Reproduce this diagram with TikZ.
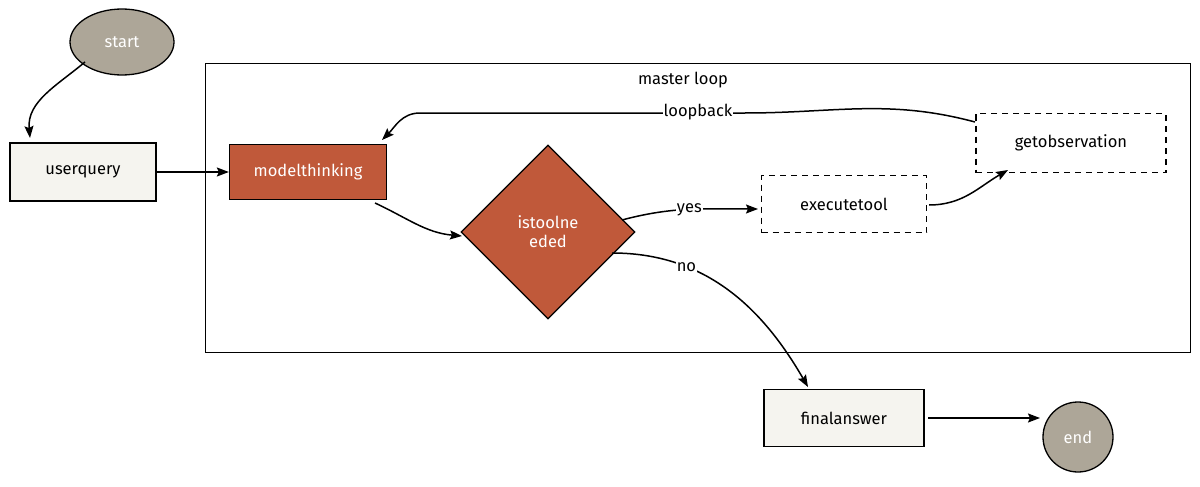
\documentclass[tikz,border=0pt]{standalone}
\usepackage{fontspec}
\setmainfont{Fira Sans}
\usetikzlibrary{shapes.geometric,arrows.meta}
\definecolor{rust}{HTML}{C0593A}
\definecolor{stone}{HTML}{ADA698}
\definecolor{paper}{HTML}{F5F4EF}
\tikzset{
  txt/.style={font=\fontsize{16.5}{19}\selectfont},
  box/.style={draw,line width=1.3pt,fill=paper,minimum width=#1,minimum height=57pt,txt},
  hot/.style={draw,line width=1.3pt,fill=rust,text=white,txt},
  dbox/.style={draw,line width=1.3pt,dash pattern=on 6pt off 5pt,minimum height=57pt,txt},
  term/.style={draw,line width=1.3pt,fill=stone,text=white,txt},
  arr/.style={line width=1.5pt,-{Stealth[length=12pt,width=9pt,inset=2pt]}},
  lbl/.style={fill=white,inner sep=1pt,txt}
}
\begin{document}
\begin{tikzpicture}[x=1pt,y=-1pt]
\useasboundingbox (0,0) rectangle (1200,487);
\node[draw,line width=1.3pt,minimum width=985pt,minimum height=289pt,anchor=north west] (loop) at (205,63) {};
\node[txt] (looplbl) at (683,80) {master loop};
\node[term,ellipse,minimum width=104pt,minimum height=66pt] (start) at (122,42) {start};
\node[box=146pt,minimum height=58pt] (uq) at (83,172) {userquery};
\node[hot,minimum width=157pt,minimum height=55pt] (mt) at (308,172) {modelthinking};
\node[hot,diamond,minimum width=174pt,minimum height=174pt,align=center,inner sep=0pt] (dec) at (548,232) {istoolne\\eded};
\node[dbox,minimum width=165pt] (ex) at (844,204) {executetool};
\node[dbox,minimum width=190pt,minimum height=59pt] (go) at (1071,143) {getobservation};
\node[box=160pt] (fa) at (844,418) {finalanswer};
\node[term,circle,minimum size=70pt] (end) at (1078,437) {end};
\coordinate (s1) at (85,62);
\coordinate (u1) at (30,138);
\coordinate (m1) at (375,203);
\coordinate (d1) at (462,236);
\coordinate (d2) at (622,220);
\coordinate (e1) at (758,209);
\coordinate (e2) at (929,205);
\coordinate (g1) at (1008,170);
\coordinate (g2) at (975,122);
\coordinate (m2) at (382,140);
\coordinate (d3) at (612,253);
\coordinate (f1) at (808,387);
\coordinate (f2) at (928,418);
\coordinate (n1) at (1040,418);
\draw[arr] (s1) to[out=220,in=95] (u1);
\draw[arr] (uq.east) -- (mt.west);
\draw[arr] (m1) to[out=-25,in=175] (d1);
\draw[arr] (d2) to[out=15,in=180] node[lbl,pos=0.5] {yes} (e1);
\draw[arr] (e2) to[out=0,in=210] (g1);
\draw[arr] (g2) to[out=165,in=0] (745,113) -- (420,113) to[out=180,in=45] (m2);
\node[lbl] at (698,112) {loopback};
\draw[arr] (d3) to[out=0,in=120] node[lbl,pos=0.3] {no} (f1);
\draw[arr] (f2) -- (n1);
\end{tikzpicture}
\end{document}
